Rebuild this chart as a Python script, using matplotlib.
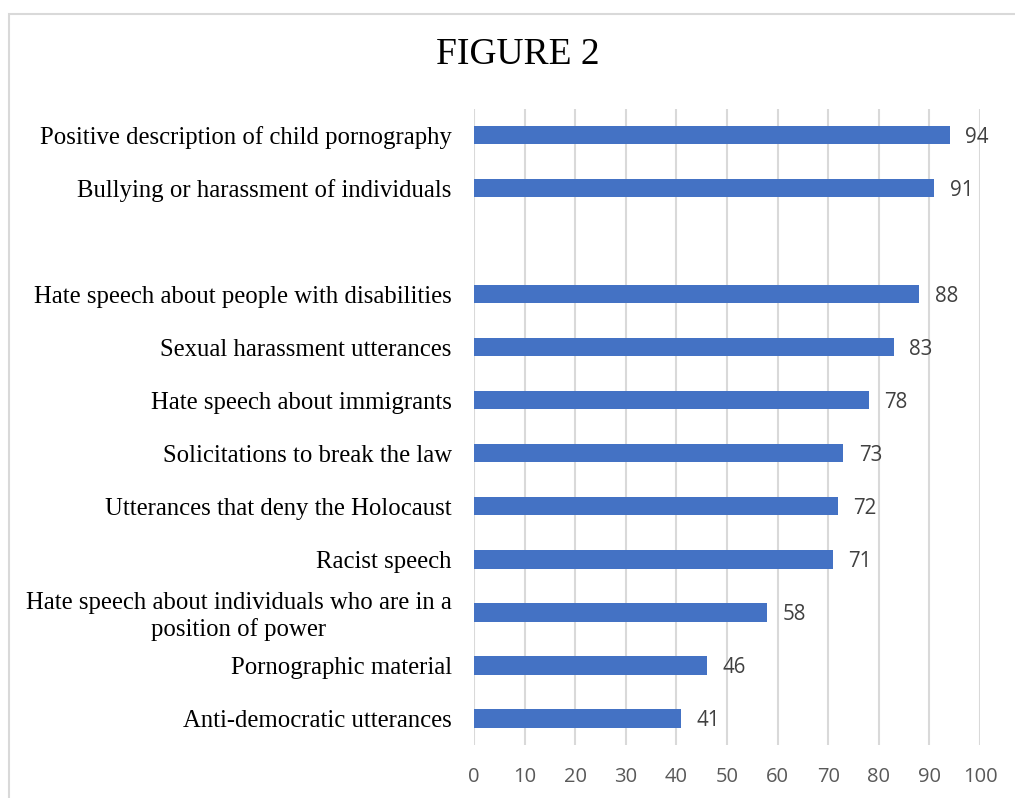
import matplotlib
matplotlib.use("Agg")
import matplotlib.pyplot as plt
from matplotlib.patches import Rectangle

title = "FIGURE 2"
categories = [
    "Positive description of child pornography",
    "Bullying or harassment of individuals",
    "Hate speech about people with disabilities",
    "Sexual harassment utterances",
    "Hate speech about immigrants",
    "Solicitations to break the law",
    "Utterances that deny the Holocaust",
    "Racist speech",
    "Hate speech about individuals who are in a\nposition of power",
    "Pornographic material",
    "Anti-democratic utterances",
]
values = [94, 91, 88, 83, 78, 73, 72, 71, 58, 46, 41]
xticks = [0, 10, 20, 30, 40, 50, 60, 70, 80, 90, 100]
gap_after = 2  # an empty category slot appears after the first two bars

positions = [i if i < gap_after else i + 1 for i in range(len(categories))]
n_slots = len(categories) + 1

fig = plt.figure(figsize=(10.15, 7.98), dpi=100)
ax = fig.add_axes([474 / 1015, 1 - 745 / 798, (980 - 474) / 1015, (745 - 108.5) / 798])

ax.barh(positions, values, height=0.345, color="#4472C4", zorder=3)
for p, v in zip(positions, values):
    ax.annotate(str(v), (v, p), xytext=(11, -1.5), textcoords="offset points",
                va="center", ha="left", fontsize=14.8, color="#404040",
                family="Open Sans")

ax.set_ylim(n_slots - 0.5, -0.5)
ax.set_xlim(0, 100)
ax.set_xticks(xticks)
ax.set_xticklabels([str(t) for t in xticks], fontsize=14.5, color="#595959", family="Open Sans")
ax.set_yticks(positions)
ax.set_yticklabels(categories, fontsize=17.8, color="black", family="Liberation Serif",
                   multialignment="center", linespacing=1.2)
ax.tick_params(axis="both", length=0)
ax.tick_params(axis="x", pad=15.5)
ax.tick_params(axis="y", pad=16)
ax.grid(axis="x", color="#d9d9d9", linewidth=1.5, zorder=0)
for s in ax.spines.values():
    s.set_visible(False)

fig.text(518 / 1015, 1 - 55 / 798, title, ha="center", va="center",
         fontsize=27, family="Liberation Serif", color="black")

fig.patches.append(Rectangle((9 / 1015, -0.05), 1.1, 1 - 14 / 798 + 0.05,
                             transform=fig.transFigure, fill=False,
                             edgecolor="#d9d9d9", linewidth=1.5, clip_on=False))

fig.savefig("out.png", dpi=100, facecolor="white")
